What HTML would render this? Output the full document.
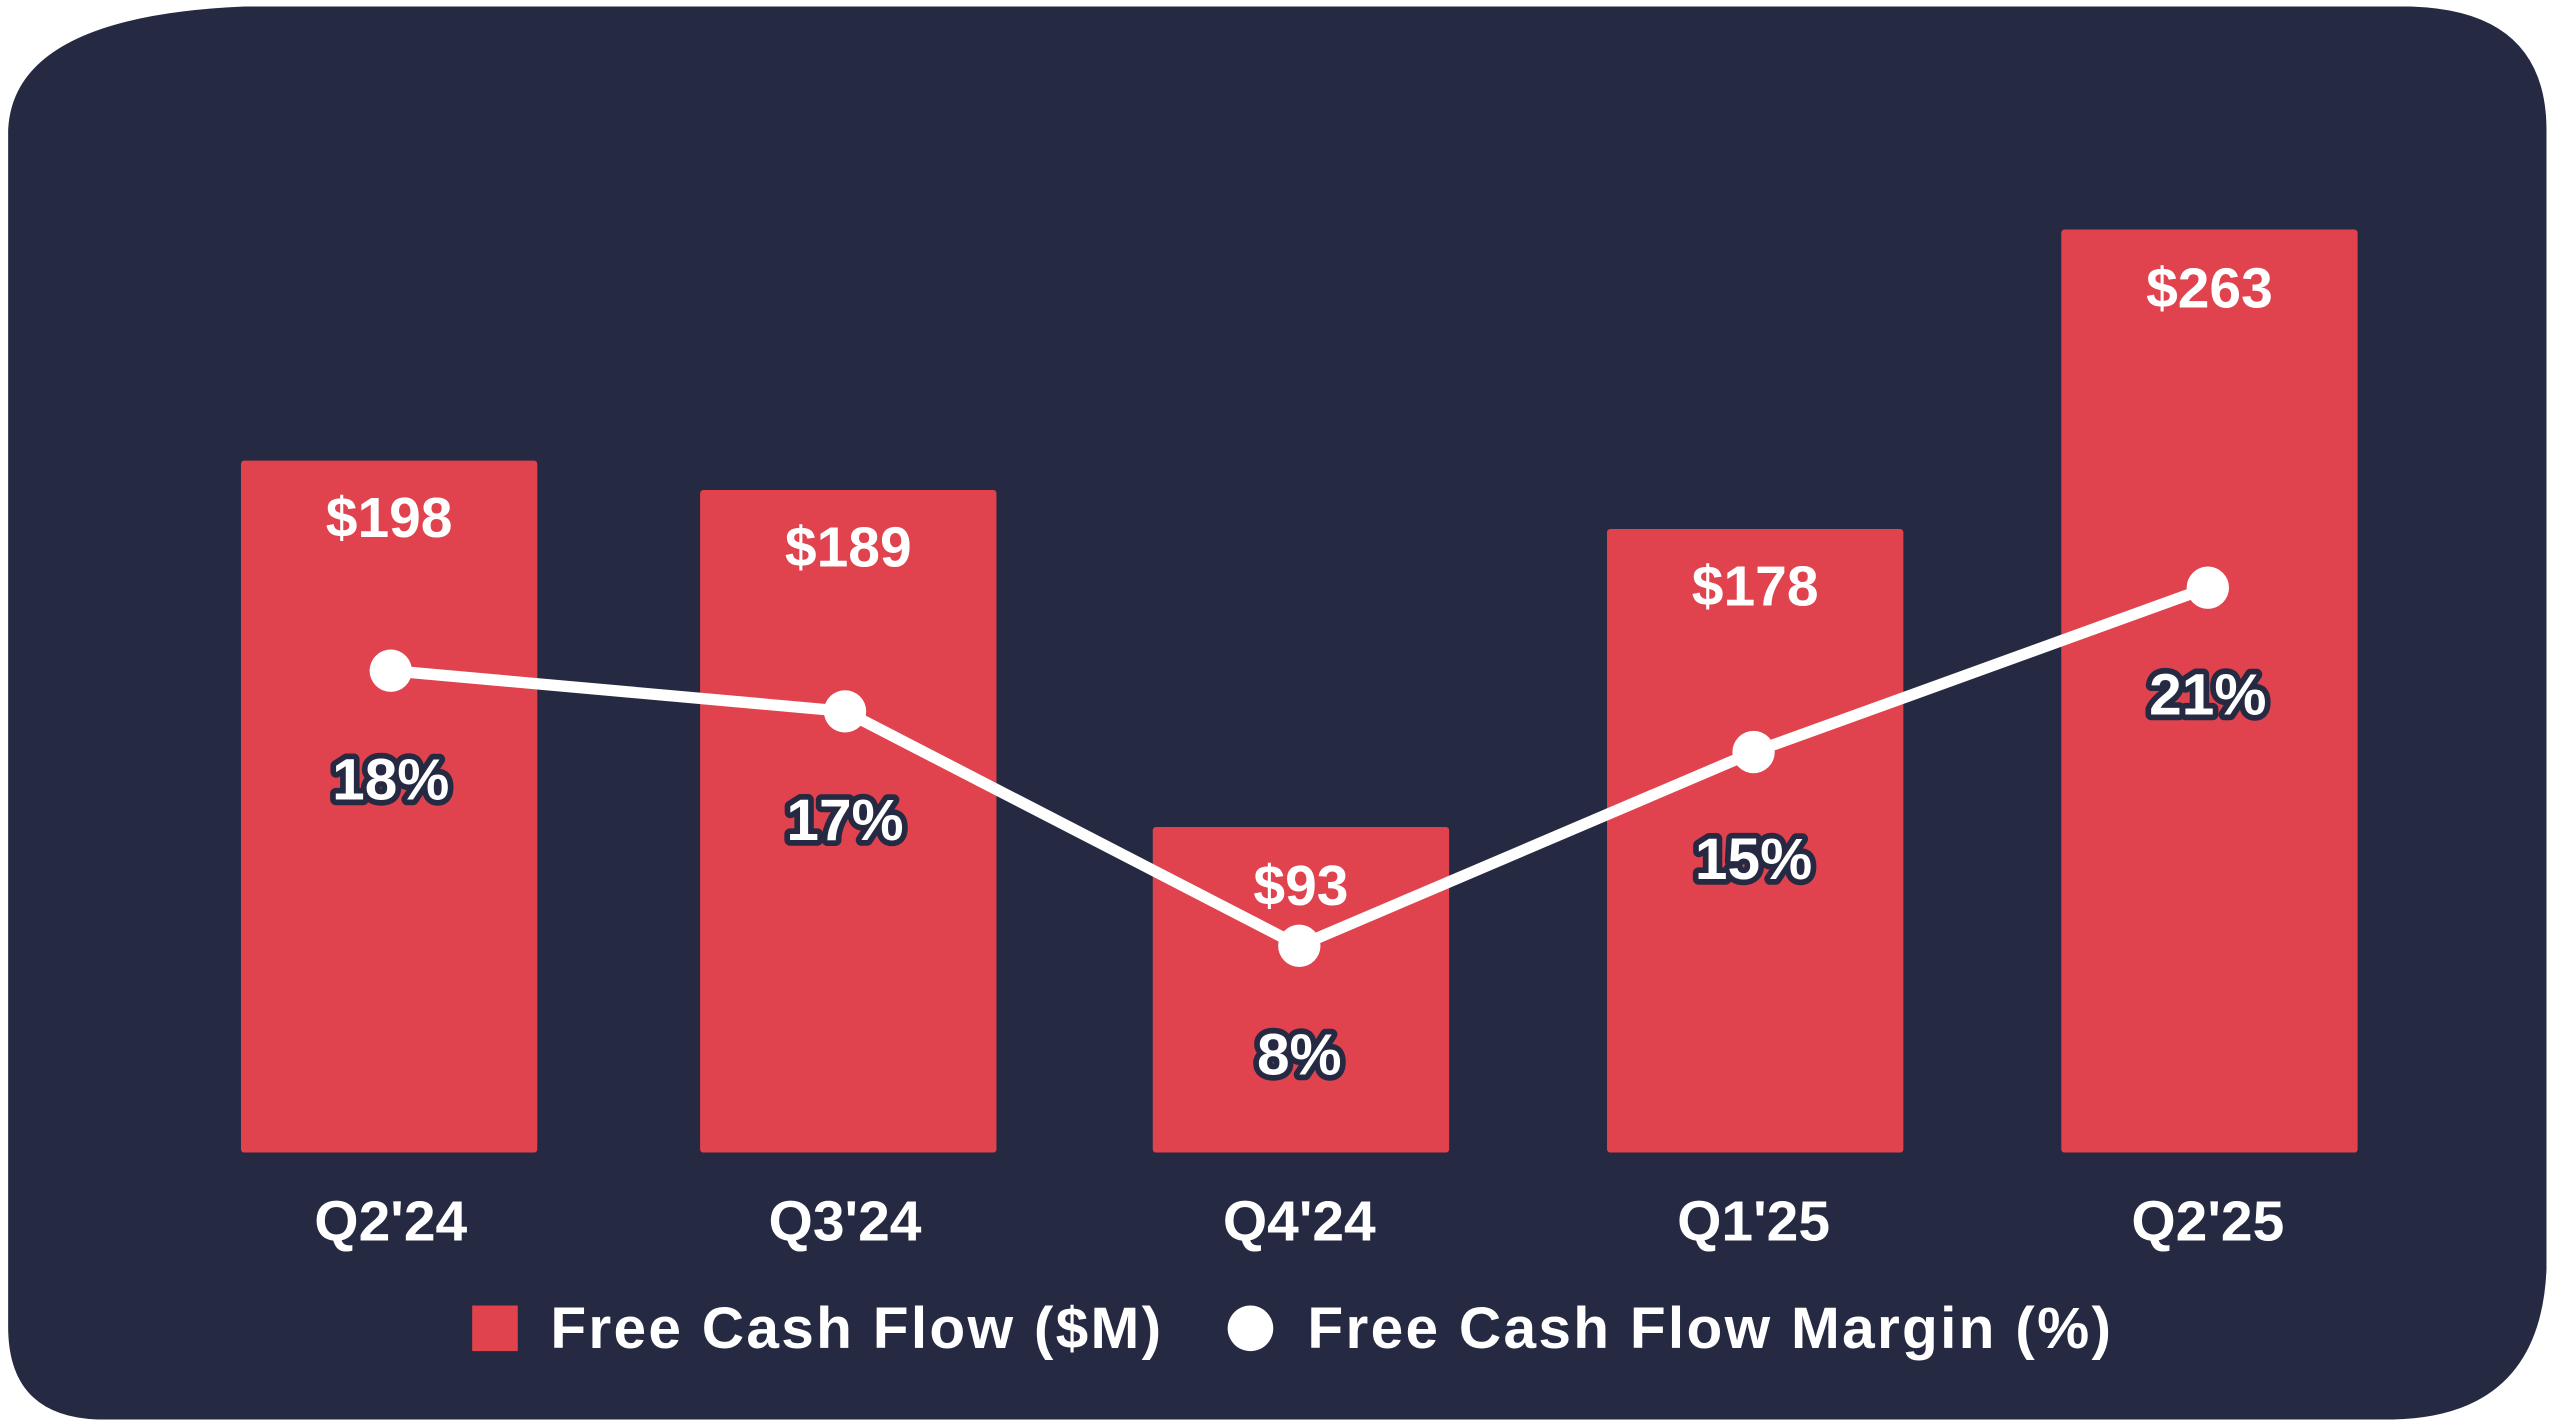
<!DOCTYPE html>
<html><head><meta charset="utf-8"><style>
html,body{margin:0;padding:0;background:#fff;width:2553px;height:1426px;overflow:hidden}
svg{display:block}
text{font-family:"Liberation Sans",Arial,sans-serif;font-weight:bold}
</style></head><body>
<svg width="2553" height="1426" viewBox="0 0 1568 876" preserveAspectRatio="none">
<path d="M150,4 L1480,4 Q1564,6 1564,80 L1564,780 Q1560,870 1470,872 L60,872 Q5,870 5,815 L5,80 Q8,10 150,4 Z" fill="#252a42"/>
<g fill="#e0434e">
<rect x="148" y="283" width="182" height="425" rx="2"/>
<rect x="430" y="301" width="182" height="407" rx="2"/>
<rect x="708" y="508" width="182" height="200" rx="2"/>
<rect x="987" y="325" width="182" height="383" rx="2"/>
<rect x="1266" y="141" width="182" height="567" rx="2"/>
</g>
<g fill="#fff" font-size="35" text-anchor="middle">
<text x="239" y="330">$198</text>
<text x="521" y="348">$189</text>
<text x="799" y="556">$93</text>
<text x="1078" y="372">$178</text>
<text x="1357" y="189">$263</text>
</g>
<polyline points="240,412 519,437 798,581 1077,462 1356,361" fill="none" stroke="#fff" stroke-width="7" stroke-linejoin="round"/>
<g fill="#fff">
<circle cx="240" cy="412" r="13"/><circle cx="519" cy="437" r="13"/><circle cx="798" cy="581" r="13"/><circle cx="1077" cy="462" r="13"/><circle cx="1356" cy="361" r="13"/>
</g>
<g font-size="36" text-anchor="middle" fill="#fff" stroke="#252a42" stroke-width="7" paint-order="stroke" stroke-linejoin="round">
<text x="240" y="491">18%</text>
<text x="519" y="516">17%</text>
<text x="798" y="660">8%</text>
<text x="1077" y="540">15%</text>
<text x="1356" y="439">21%</text>
</g>
<g fill="#fff" font-size="35" text-anchor="middle">
<text x="240" y="762">Q2'24</text>
<text x="519" y="762">Q3'24</text>
<text x="798" y="762">Q4'24</text>
<text x="1077" y="762">Q1'25</text>
<text x="1356" y="762">Q2'25</text>
</g>
<rect x="290" y="802" width="28" height="28" fill="#e0434e"/>
<text x="338" y="828" fill="#fff" font-size="36" letter-spacing="1.4">Free Cash Flow ($M)</text>
<circle cx="768" cy="816" r="14" fill="#fff"/>
<text x="803" y="828" fill="#fff" font-size="36" letter-spacing="1.4">Free Cash Flow Margin (%)</text>
</svg>
</body></html>
